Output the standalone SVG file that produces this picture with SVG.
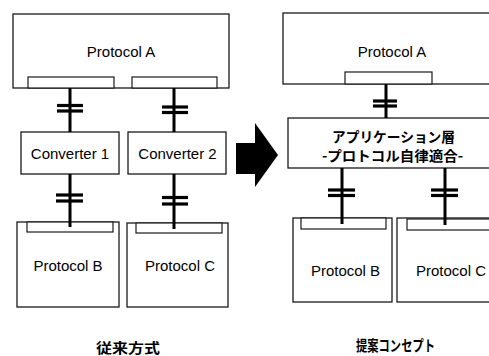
<svg xmlns="http://www.w3.org/2000/svg" width="489" height="356" viewBox="0 0 489 356">
<style>
.box{fill:#fff;stroke:#1a1a1a;stroke-width:1.3}
.port{fill:#fff;stroke:#1a1a1a;stroke-width:1.2}
.lbl{font-family:"Liberation Sans","Noto Sans CJK JP",sans-serif;font-size:15px;fill:#000;text-anchor:middle}
.jp{font-family:"Noto Sans CJK JP","Liberation Sans",sans-serif;font-size:14px;fill:#000;text-anchor:middle;font-weight:bold}
.wire{stroke:#000;stroke-width:3;fill:none}
.cap{stroke:#000;stroke-width:3.2;fill:none}
</style>
<rect width="489" height="356" fill="#fff"/>

<!-- Left side: conventional -->
<g id="left-protocol-a">
<rect class="box" x="13" y="14" width="216" height="74"/>
<rect class="port" x="28" y="77" width="86" height="11"/>
<rect class="port" x="132" y="77" width="85" height="11"/>
<text class="lbl" x="121" y="57">Protocol A</text>
</g>
<g id="converter-1">
<rect class="box" x="21" y="132" width="98" height="42"/>
<text class="lbl" x="70" y="159">Converter 1</text>
</g>
<g id="converter-2">
<rect class="box" x="128" y="132" width="98" height="42"/>
<text class="lbl" x="177.5" y="159">Converter 2</text>
</g>
<g id="left-protocol-b">
<rect class="box" x="17" y="222" width="102" height="85"/>
<rect class="port" x="27" y="222" width="86" height="10"/>
<text class="lbl" x="68" y="271">Protocol B</text>
</g>
<g id="left-protocol-c">
<rect class="box" x="127" y="223" width="101" height="84"/>
<rect class="port" x="136" y="223" width="86" height="10"/>
<text class="lbl" x="180" y="271">Protocol C</text>
</g>

<!-- Right side: proposed -->
<g id="right-protocol-a">
<rect class="box" x="283" y="13" width="218" height="71"/>
<rect class="port" x="345" y="72" width="87" height="12"/>
<text class="lbl" x="392" y="57">Protocol A</text>
</g>
<g id="application-layer">
<rect class="box" x="288" y="118" width="212" height="50"/>
<text class="jp" x="393.5" y="142" textLength="123" lengthAdjust="spacingAndGlyphs">アプリケーション層</text>
<text class="jp" x="392.5" y="161" textLength="141" lengthAdjust="spacingAndGlyphs">-プロトコル自律適合-</text>
</g>
<g id="right-protocol-b">
<rect class="box" x="293" y="218" width="99" height="84"/>
<rect class="port" x="301" y="218" width="85" height="11"/>
<text class="lbl" x="345.5" y="276">Protocol B</text>
</g>
<g id="right-protocol-c">
<rect class="box" x="397" y="218" width="108" height="84"/>
<rect class="port" x="407" y="219" width="95" height="11"/>
<text class="lbl" x="451" y="276">Protocol C</text>
</g>

<!-- Big arrow -->
<g id="transition-arrow">
<polygon points="236,143 255,143 255,123 278,155 255,187 255,174 236,174" fill="#000"/>
</g>

<!-- Connectors -->
<g id="connectors">
<line class="wire" x1="70" y1="88" x2="70" y2="132"/>
<line class="cap" x1="57" y1="105.5" x2="83" y2="105.5"/>
<line class="cap" x1="57" y1="111" x2="83" y2="111"/>
<line class="wire" x1="174" y1="88" x2="174" y2="132"/>
<line class="cap" x1="162" y1="107" x2="188" y2="107"/>
<line class="cap" x1="162" y1="112.5" x2="188" y2="112.5"/>

<line class="wire" x1="70" y1="174" x2="70" y2="227"/>
<line class="cap" x1="56" y1="195" x2="83" y2="195"/>
<line class="cap" x1="56" y1="201" x2="83" y2="201"/>
<line class="wire" x1="174" y1="174" x2="174" y2="229"/>
<line class="cap" x1="162" y1="197.5" x2="188" y2="197.5"/>
<line class="cap" x1="162" y1="204" x2="188" y2="204"/>

<line class="wire" x1="386" y1="84" x2="386" y2="118"/>
<line class="cap" x1="373" y1="101" x2="397" y2="101"/>
<line class="cap" x1="373" y1="106" x2="397" y2="106"/>

<line class="wire" x1="342" y1="168" x2="342" y2="224"/>
<line class="cap" x1="328" y1="190" x2="355" y2="190"/>
<line class="cap" x1="328" y1="195.5" x2="355" y2="195.5"/>
<line class="wire" x1="445" y1="168" x2="445" y2="225"/>
<line class="cap" x1="431" y1="190" x2="458" y2="190"/>
<line class="cap" x1="431" y1="195.5" x2="458" y2="195.5"/>
</g>

<!-- Captions -->
<text class="jp" x="128" y="353" font-size="13" textLength="64" lengthAdjust="spacingAndGlyphs">従来方式</text>
<text class="jp" x="395.5" y="351" style="font-size:15px" textLength="79" lengthAdjust="spacingAndGlyphs">提案コンセプト</text>
</svg>
